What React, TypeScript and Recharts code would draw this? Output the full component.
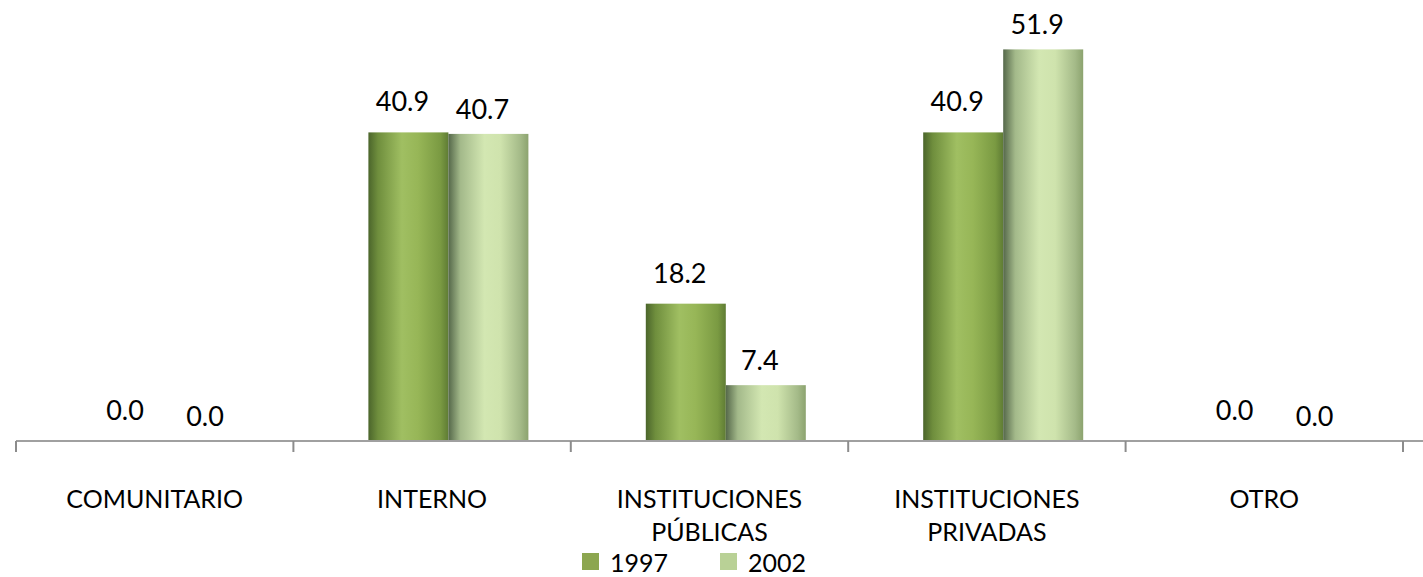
import React from 'react';
import { BarChart, Bar, XAxis, YAxis, Legend, LabelList } from 'recharts';

const categories = ['COMUNITARIO', 'INTERNO', 'INSTITUCIONES PÚBLICAS', 'INSTITUCIONES PRIVADAS', 'OTRO'];
const values1997 = [0.0, 40.9, 18.2, 40.9, 0.0];
const values2002 = [0.0, 40.7, 7.4, 51.9, 0.0];
const seriesNames = ['1997', '2002'];

const data = categories.map((name, i) => ({
    name,
    y1997: values1997[i],
    y2002: values2002[i],
}));

const FONT = 'Lato, "Open Sans", sans-serif';
const WIDTH = 1423;
const HEIGHT = 577;
const LEFT = 16;
const RIGHT_PAD = 20;
const STEP = (WIDTH - LEFT - RIGHT_PAD) / categories.length;
// excel draws the 3d bars a bit right of the category centre
const BAR_SHIFT = 16;
const LABEL_SHIFT = -6;

const CategoryTick = (props: any) => {
    const { x, y, payload, index } = props;
    const lines = String(payload.value).split(' ');
    const half = STEP / 2;
    return (
        <g>
            <line x1={x - half} y1={y} x2={x - half} y2={y + 11} stroke="#8c8c8c" strokeWidth={2} />
            {index === categories.length - 1 && (
                <line x1={x + half} y1={y} x2={x + half} y2={y + 11} stroke="#8c8c8c" strokeWidth={2} />
            )}
            {lines.map((l, i) => (
                <text key={i} x={x} y={y + 67 + i * 33} textAnchor="middle" fontSize={25} fontFamily={FONT} fill="#000">
                    {l}
                </text>
            ))}
        </g>
    );
};

const barShape = (gradId: string) => (p: any) => {
    if (!p.height) return <g />;
    return <rect x={p.x + BAR_SHIFT} y={p.y} width={p.width} height={p.height} fill={`url(#${gradId})`} />;
};

const valueLabel = (dy: number) => (p: any) => (
    <text
        x={p.x + p.width / 2 + BAR_SHIFT + LABEL_SHIFT}
        y={p.y - dy}
        textAnchor="middle"
        fontSize={27}
        fontFamily={FONT}
        fill="#000"
    >
        {Number(p.value).toFixed(1)}
    </text>
);

const legendColors = ['#8ca64f', '#b9d196'];

const LegendContent = () => (
    <div
        style={{
            display: 'flex',
            height: 30,
            paddingLeft: 566,
            fontFamily: FONT,
            fontSize: 25,
            lineHeight: '30px',
        }}
    >
        {seriesNames.map((s, i) => (
            <div key={s} style={{ display: 'flex', alignItems: 'center', marginRight: 52 }}>
                <span style={{ display: 'inline-block', width: 17, height: 17, background: legendColors[i], marginRight: 11, marginTop: -2 }} />
                <span>{s}</span>
            </div>
        ))}
    </div>
);

export default function App() {
    return (
        <div style={{ position: 'absolute', left: 0, top: 0, width: WIDTH, height: HEIGHT, background: '#fff', overflow: 'hidden' }}>
            <BarChart
                width={WIDTH}
                height={HEIGHT}
                data={data}
                margin={{ top: 26, right: 0, left: LEFT, bottom: 0 }}
                barGap={0}
                barSize={80}
            >
                <defs>
                    <linearGradient id="g1997" x1="0" y1="0" x2="1" y2="0">
                        <stop offset="0%" stopColor="#4b652b" />
                        <stop offset="12%" stopColor="#6f8e3d" />
                        <stop offset="42%" stopColor="#a0bf62" />
                        <stop offset="62%" stopColor="#97b657" />
                        <stop offset="90%" stopColor="#7a9a42" />
                        <stop offset="100%" stopColor="#5f7c34" />
                    </linearGradient>
                    <linearGradient id="g2002" x1="0" y1="0" x2="1" y2="0">
                        <stop offset="0%" stopColor="#55684a" />
                        <stop offset="15%" stopColor="#a3b98a" />
                        <stop offset="45%" stopColor="#d3e7b2" />
                        <stop offset="65%" stopColor="#cfe3ad" />
                        <stop offset="90%" stopColor="#a4ba88" />
                        <stop offset="100%" stopColor="#8ca36f" />
                    </linearGradient>
                </defs>
                <XAxis
                    dataKey="name"
                    interval={0}
                    height={106}
                    padding={{ left: 0, right: RIGHT_PAD }}
                    axisLine={{ stroke: '#a0a0a0', strokeWidth: 2 }}
                    tickLine={false}
                    tickSize={0}
                    tickMargin={0}
                    tick={<CategoryTick />}
                />
                <YAxis hide domain={[0, 55]} />
                <Legend verticalAlign="bottom" content={<LegendContent />} />
                <Bar dataKey="y1997" name={seriesNames[0]} isAnimationActive={false} shape={barShape('g1997')}>
                    <LabelList dataKey="y1997" content={valueLabel(21)} />
                </Bar>
                <Bar dataKey="y2002" name={seriesNames[1]} isAnimationActive={false} shape={barShape('g2002')}>
                    <LabelList dataKey="y2002" content={valueLabel(15)} />
                </Bar>
            </BarChart>
        </div>
    );
}
